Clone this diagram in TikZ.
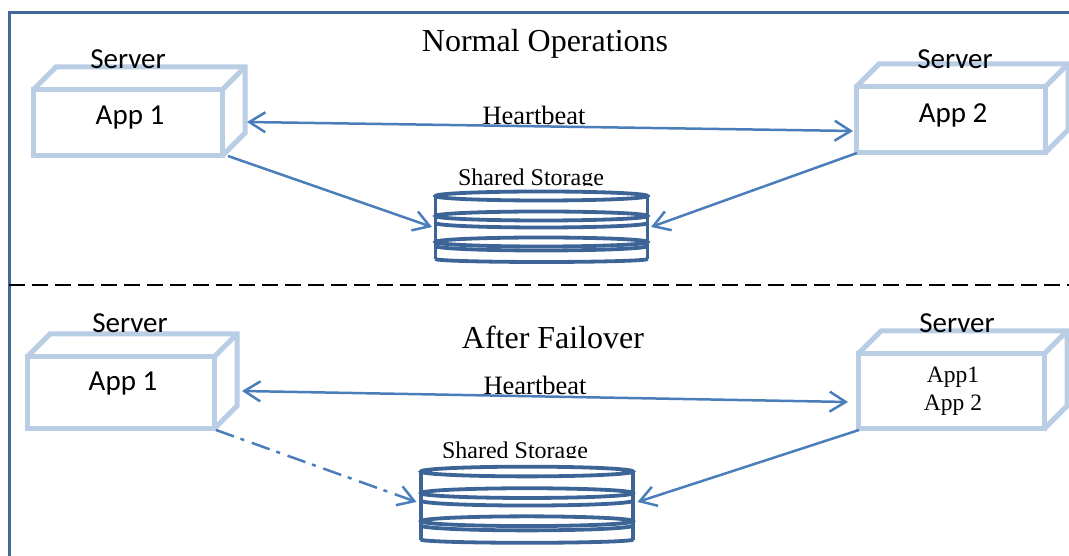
\documentclass[tikz,border=0pt]{standalone}
\usepackage{fontspec}
\setmainfont{Liberation Serif}
\newfontfamily\boxfont{Carlito}
\usepackage{tikz}
\usetikzlibrary{arrows.meta, positioning}

\definecolor{boxblue}{HTML}{B9CDE5}
\definecolor{flowblue}{HTML}{4A7EBB}
\definecolor{diskblue}{HTML}{3C6496}
\definecolor{frameblue}{HTML}{41699C}

% Back edges of a server box
\newcommand{\serverback}[1]{
    \draw[boxedge] (#1.north west) -- ++(23,23) -- ([shift={(23,23)}]#1.north east)
        -- ([shift={(23,23)}]#1.south east) -- (#1.south east);
    \draw[boxedge] (#1.north east) -- ++(23,23);
}
% Stacked disks inside a storage node
\newcommand{\storagedisks}[2]{
    \begin{scope}[shift={(#1.center)}, yscale=#2, diskedge]
        \draw (-106,31) -- (-106,-32) (106,31) -- (106,-32);
        \foreach \ypos in {31,11,-15} {
            \draw (0,\ypos) ellipse (106 and 4.5);
        }
        \foreach \ypos in {4,-19} {
            \draw (-106,\ypos) arc (180:360:106 and 4.5);
        }
        \draw (-106,-32) arc (180:360:106 and 3);
    \end{scope}
}

\begin{document}
\begin{tikzpicture}[
    x=1pt, y=1pt,
    server/.style={rectangle, draw=boxblue, line width=5pt, outer sep=0pt},
    boxedge/.style={draw=boxblue, line width=5pt, line join=miter},
    diskedge/.style={draw=diskblue, line width=3.8pt},
    storage/.style={rectangle, minimum width=213pt, outer sep=0pt, inner sep=0pt},
    flow/.style={draw=flowblue, line width=2.5pt, -{Straight Barb[length=16pt, width=20pt, line width=2.5pt]}},
    twoflow/.style={flow, {Straight Barb[length=16pt, width=20pt, line width=2.5pt]}-{Straight Barb[length=16pt, width=20pt, line width=2.5pt]}},
    boxlabel/.style={font=\boxfont\fontsize{29}{32}\selectfont, inner sep=0pt},
    heading/.style={font=\fontsize{32}{36}\selectfont, inner sep=0pt},
    flowlabel/.style={font=\fontsize{26.5}{30}\selectfont, inner sep=0pt},
    storelabel/.style={font=\fontsize{24}{28}\selectfont, inner sep=0pt},
    applabel/.style={font=\fontsize{23.5}{28}\selectfont, align=center, inner sep=0pt}
]
\useasboundingbox (0,0) rectangle (1069,556);

% Frame and divider
\draw[frameblue, line width=3pt] (9,0) -- (9,543) -- (1069,543);
\draw[black, line width=1.8pt, dash pattern=on 16pt off 7pt] (9,271) -- (1069,271);

% Normal operations
\node[server, minimum width=189pt, minimum height=66pt] (serverA) at (127.5,433) {};
\node[server, minimum width=189pt, minimum height=66pt] (serverB) at (950.5,436) {};
\serverback{serverA}
\serverback{serverB}
\node[storage, minimum height=70pt] (storeA) at (541.5,329) {};
\storagedisks{storeA}{1}

\node[heading] (titleA) at (545,512) {Normal Operations};
\node[boxlabel] (nameA) at (128,497) {Server};
\node[boxlabel] (nameB) at (955,497) {Server};
\node[boxlabel] (appA) at (130,438.5) {App 1};
\node[boxlabel] (appB) at (953,440.5) {App 2};
\node[flowlabel] (beatA) at (534,441) {Heartbeat};
\begin{scope}
    \clip (440,370) rectangle (640,400);
    \node[storelabel, above=1pt of storeA, xshift=-10.5pt] (sharedA) {Shared Storage};
\end{scope}

\draw[twoflow] ([shift={(25,1)}]serverA.east) -- ([shift={(-3,-11)}]serverB.west);
\draw[flow] ([xshift=6pt]serverA.south east) -- ([xshift=-3pt]storeA.west);
\draw[flow] ([xshift=1pt]serverB.south west) -- ([xshift=3pt]storeA.east);

% After failover
\node[server, minimum width=187pt, minimum height=72pt] (serverC) at (120.5,163) {};
\node[server, minimum width=186pt, minimum height=75pt] (serverD) at (951,164.5) {};
\serverback{serverC}
\serverback{serverD}
\node[storage, minimum height=76pt] (storeB) at (527,51) {};
\storagedisks{storeB}{1.08}

\node[heading] (titleB) at (553,219) {After Failover};
\node[boxlabel] (nameC) at (130,233) {Server};
\node[boxlabel] (nameD) at (957,233) {Server};
\node[boxlabel] (appC) at (123,172.5) {App 1};
\node[applabel] (appD) at (953,165) {App1\\App 2};
\node[flowlabel] (beatB) at (535,171) {Heartbeat};
\begin{scope}
    \clip (425,98) rectangle (625,128);
    \node[storelabel, above=3.5pt of storeB, xshift=-12pt] (sharedB) {Shared Storage};
\end{scope}

\draw[twoflow] ([shift={(28,2)}]serverC.east) -- ([shift={(-10,-10.5)}]serverD.west);
\draw[flow, dash pattern=on 19pt off 7pt on 4pt off 8pt] ([shift={(2,-1)}]serverC.south east) -- ([shift={(-4,3)}]storeB.west);
\draw[flow] ([shift={(1,-1)}]serverD.south west) -- ([shift={(4,3)}]storeB.east);

\end{tikzpicture}
\end{document}
